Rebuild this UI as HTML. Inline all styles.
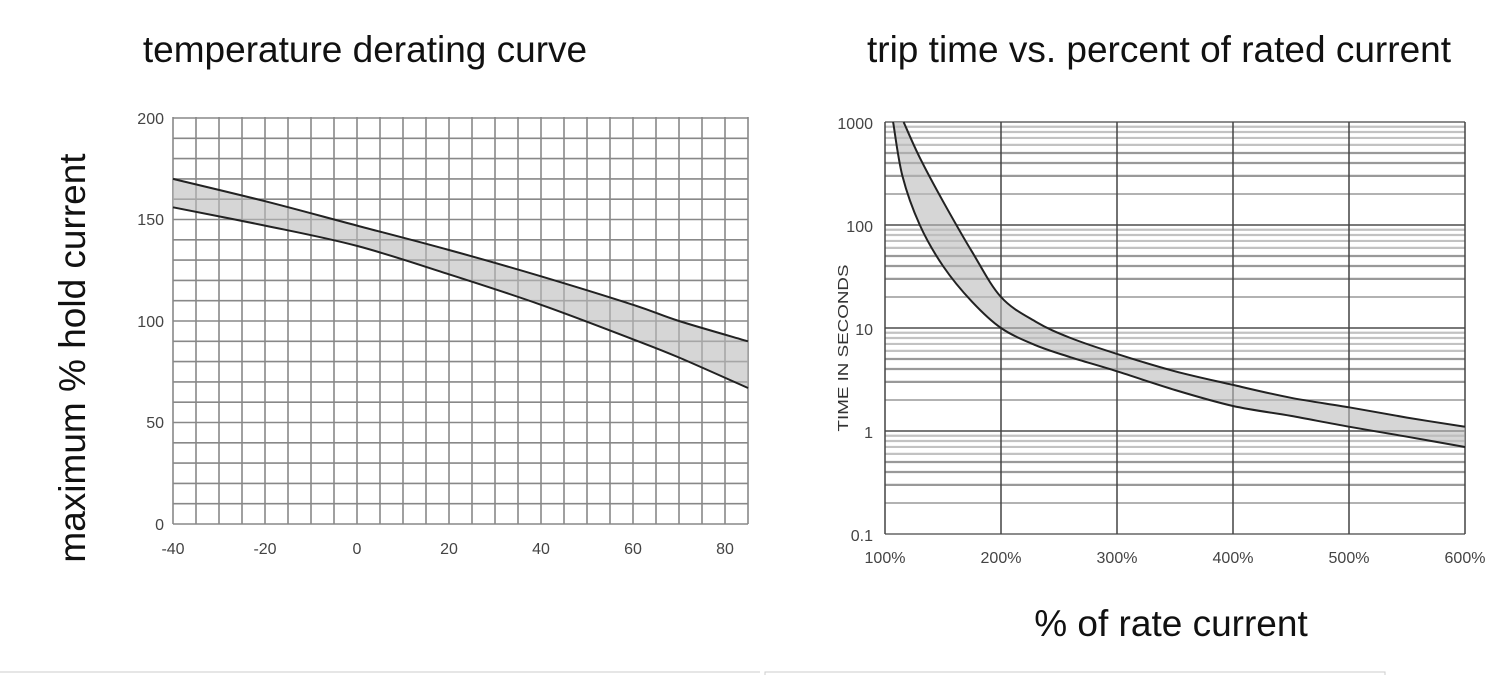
<!DOCTYPE html>
<html><head><meta charset="utf-8">
<style>
html,body{margin:0;padding:0;background:#fff;}
svg{display:block;}
text{font-family:"Liberation Sans",sans-serif;}
</style></head>
<body>
<svg id="s" width="1500" height="675" viewBox="0 0 1500 675" xmlns="http://www.w3.org/2000/svg">
<rect width="1500" height="675" fill="#fff"/>
<g id="g"></g>
<text x="365" y="62" font-size="37" text-anchor="middle" fill="#111">temperature derating curve</text>
<text x="1159" y="62" font-size="37" text-anchor="middle" fill="#111">trip time vs. percent of rated current</text>
<text transform="translate(85,358) rotate(-90)" font-size="37" text-anchor="middle" fill="#111">maximum % hold current</text>
<text x="1171" y="636" font-size="37" text-anchor="middle" fill="#111">% of rate current</text>
<g font-size="16" fill="#444" text-anchor="end">
<text x="164" y="124">200</text><text x="164" y="225">150</text><text x="164" y="327">100</text><text x="164" y="428">50</text><text x="164" y="530">0</text>
</g>
<g font-size="16" fill="#444" text-anchor="middle">
<text x="173" y="554">-40</text><text x="265" y="554">-20</text><text x="357" y="554">0</text><text x="449" y="554">20</text><text x="541" y="554">40</text><text x="633" y="554">60</text><text x="725" y="554">80</text>
</g>
<g font-size="16" fill="#444" text-anchor="end">
<text x="873" y="129">1000</text><text x="873" y="232">100</text><text x="873" y="335">10</text><text x="873" y="438">1</text><text x="873" y="541">0.1</text>
</g>
<g font-size="16" fill="#444" text-anchor="middle">
<text x="885" y="563">100%</text><text x="1001" y="563">200%</text><text x="1117" y="563">300%</text><text x="1233" y="563">400%</text><text x="1349" y="563">500%</text><text x="1465" y="563">600%</text>
</g>
<text transform="translate(848,348) rotate(-90)" font-size="15" text-anchor="middle" textLength="167" lengthAdjust="spacingAndGlyphs" fill="#333">TIME IN SECONDS</text>
<line x1="0" y1="672" x2="760" y2="672" stroke="#ccc"/>
<rect x="765" y="672" width="620" height="10" fill="none" stroke="#ccc"/>
</svg>
<script>
var g=document.getElementById('g'),NS='http://www.w3.org/2000/svg';
function el(t,a){var e=document.createElementNS(NS,t);for(var k in a)e.setAttribute(k,a[k]);g.appendChild(e);return e;}
function cr(P){var s='M'+P[0][0].toFixed(1)+' '+P[0][1].toFixed(1);for(var i=0;i<P.length-1;i++){var p0=P[Math.max(i-1,0)],p1=P[i],p2=P[i+1],p3=P[Math.min(i+2,P.length-1)];s+=' C'+(p1[0]+(p2[0]-p0[0])/6).toFixed(1)+' '+(p1[1]+(p2[1]-p0[1])/6).toFixed(1)+' '+(p2[0]-(p3[0]-p1[0])/6).toFixed(1)+' '+(p2[1]-(p3[1]-p1[1])/6).toFixed(1)+' '+p2[0].toFixed(1)+' '+p2[1].toFixed(1);}return s;}
function crRev(P){var r=P.slice().reverse();return cr(r).replace(/^M/,'L');}
// left chart
function lx(v){return 173+(v+40)*4.6;}function ly(v){return 524-v*2.03;}
for(var v=-40;v<=85;v+=5)el('line',{x1:lx(v),y1:117,x2:lx(v),y2:524,stroke:'#888','stroke-width':1.6});
for(var v=0;v<=200;v+=10)el('line',{x1:173,y1:ly(v),x2:lx(85),y2:ly(v),stroke:'#888','stroke-width':1.6});
var up=[[-40,170],[-20,159],[0,147],[20,135],[40,122],[60,108],[70,100],[85,90]];
var lo=[[-40,156],[-20,147],[0,137],[20,123],[40,108],[60,91],[70,82],[85,67]];
var U=up.map(function(p){return [lx(p[0]),ly(p[1])];}),L=lo.map(function(p){return [lx(p[0]),ly(p[1])];});
el('path',{d:cr(U)+' '+crRev(L)+'Z',fill:'#bbb','fill-opacity':0.6});
el('path',{d:cr(U),fill:'none',stroke:'#222','stroke-width':2});
el('path',{d:cr(L),fill:'none',stroke:'#222','stroke-width':2});
// right chart
function rx(p){return 885+(p-100)*1.16;}function ry(t){return 122+(3-Math.log10(t))*103;}
for(var d=-1;d<3;d++){for(var m=1;m<=10;m++){var t=m*Math.pow(10,d);el('line',{x1:885,y1:ry(t),x2:1465,y2:ry(t),stroke:m==1||m==10?'#666':'#999','stroke-width':m<=2||m==10?1.5:2.2,'stroke-opacity':m>=6&&m<10?0.6:1});}}
for(var p=100;p<=600;p+=100)el('line',{x1:rx(p),y1:122,x2:rx(p),y2:534,stroke:'#444','stroke-width':1.5});
var ru=[[116,1000],[130,450],[150,170],[175,55],[200,20],[230,11.5],[260,8],[300,5.6],[350,3.8],[400,2.8],[450,2.1],[500,1.7],[550,1.35],[600,1.1]];
var rl=[[107,1000],[115,300],[130,100],[150,40],[175,18],[200,10],[230,6.8],[260,5.2],[300,3.8],[350,2.5],[400,1.75],[450,1.4],[500,1.1],[550,0.88],[600,0.7]];
var RU=ru.map(function(p){return [rx(p[0]),ry(p[1])];}),RL=rl.map(function(p){return [rx(p[0]),ry(p[1])];});
el('path',{d:cr(RU)+' '+crRev(RL)+'Z',fill:'#bbb','fill-opacity':0.6});
el('path',{d:cr(RU),fill:'none',stroke:'#222','stroke-width':2});
el('path',{d:cr(RL),fill:'none',stroke:'#222','stroke-width':2});
</script>
</body></html>
